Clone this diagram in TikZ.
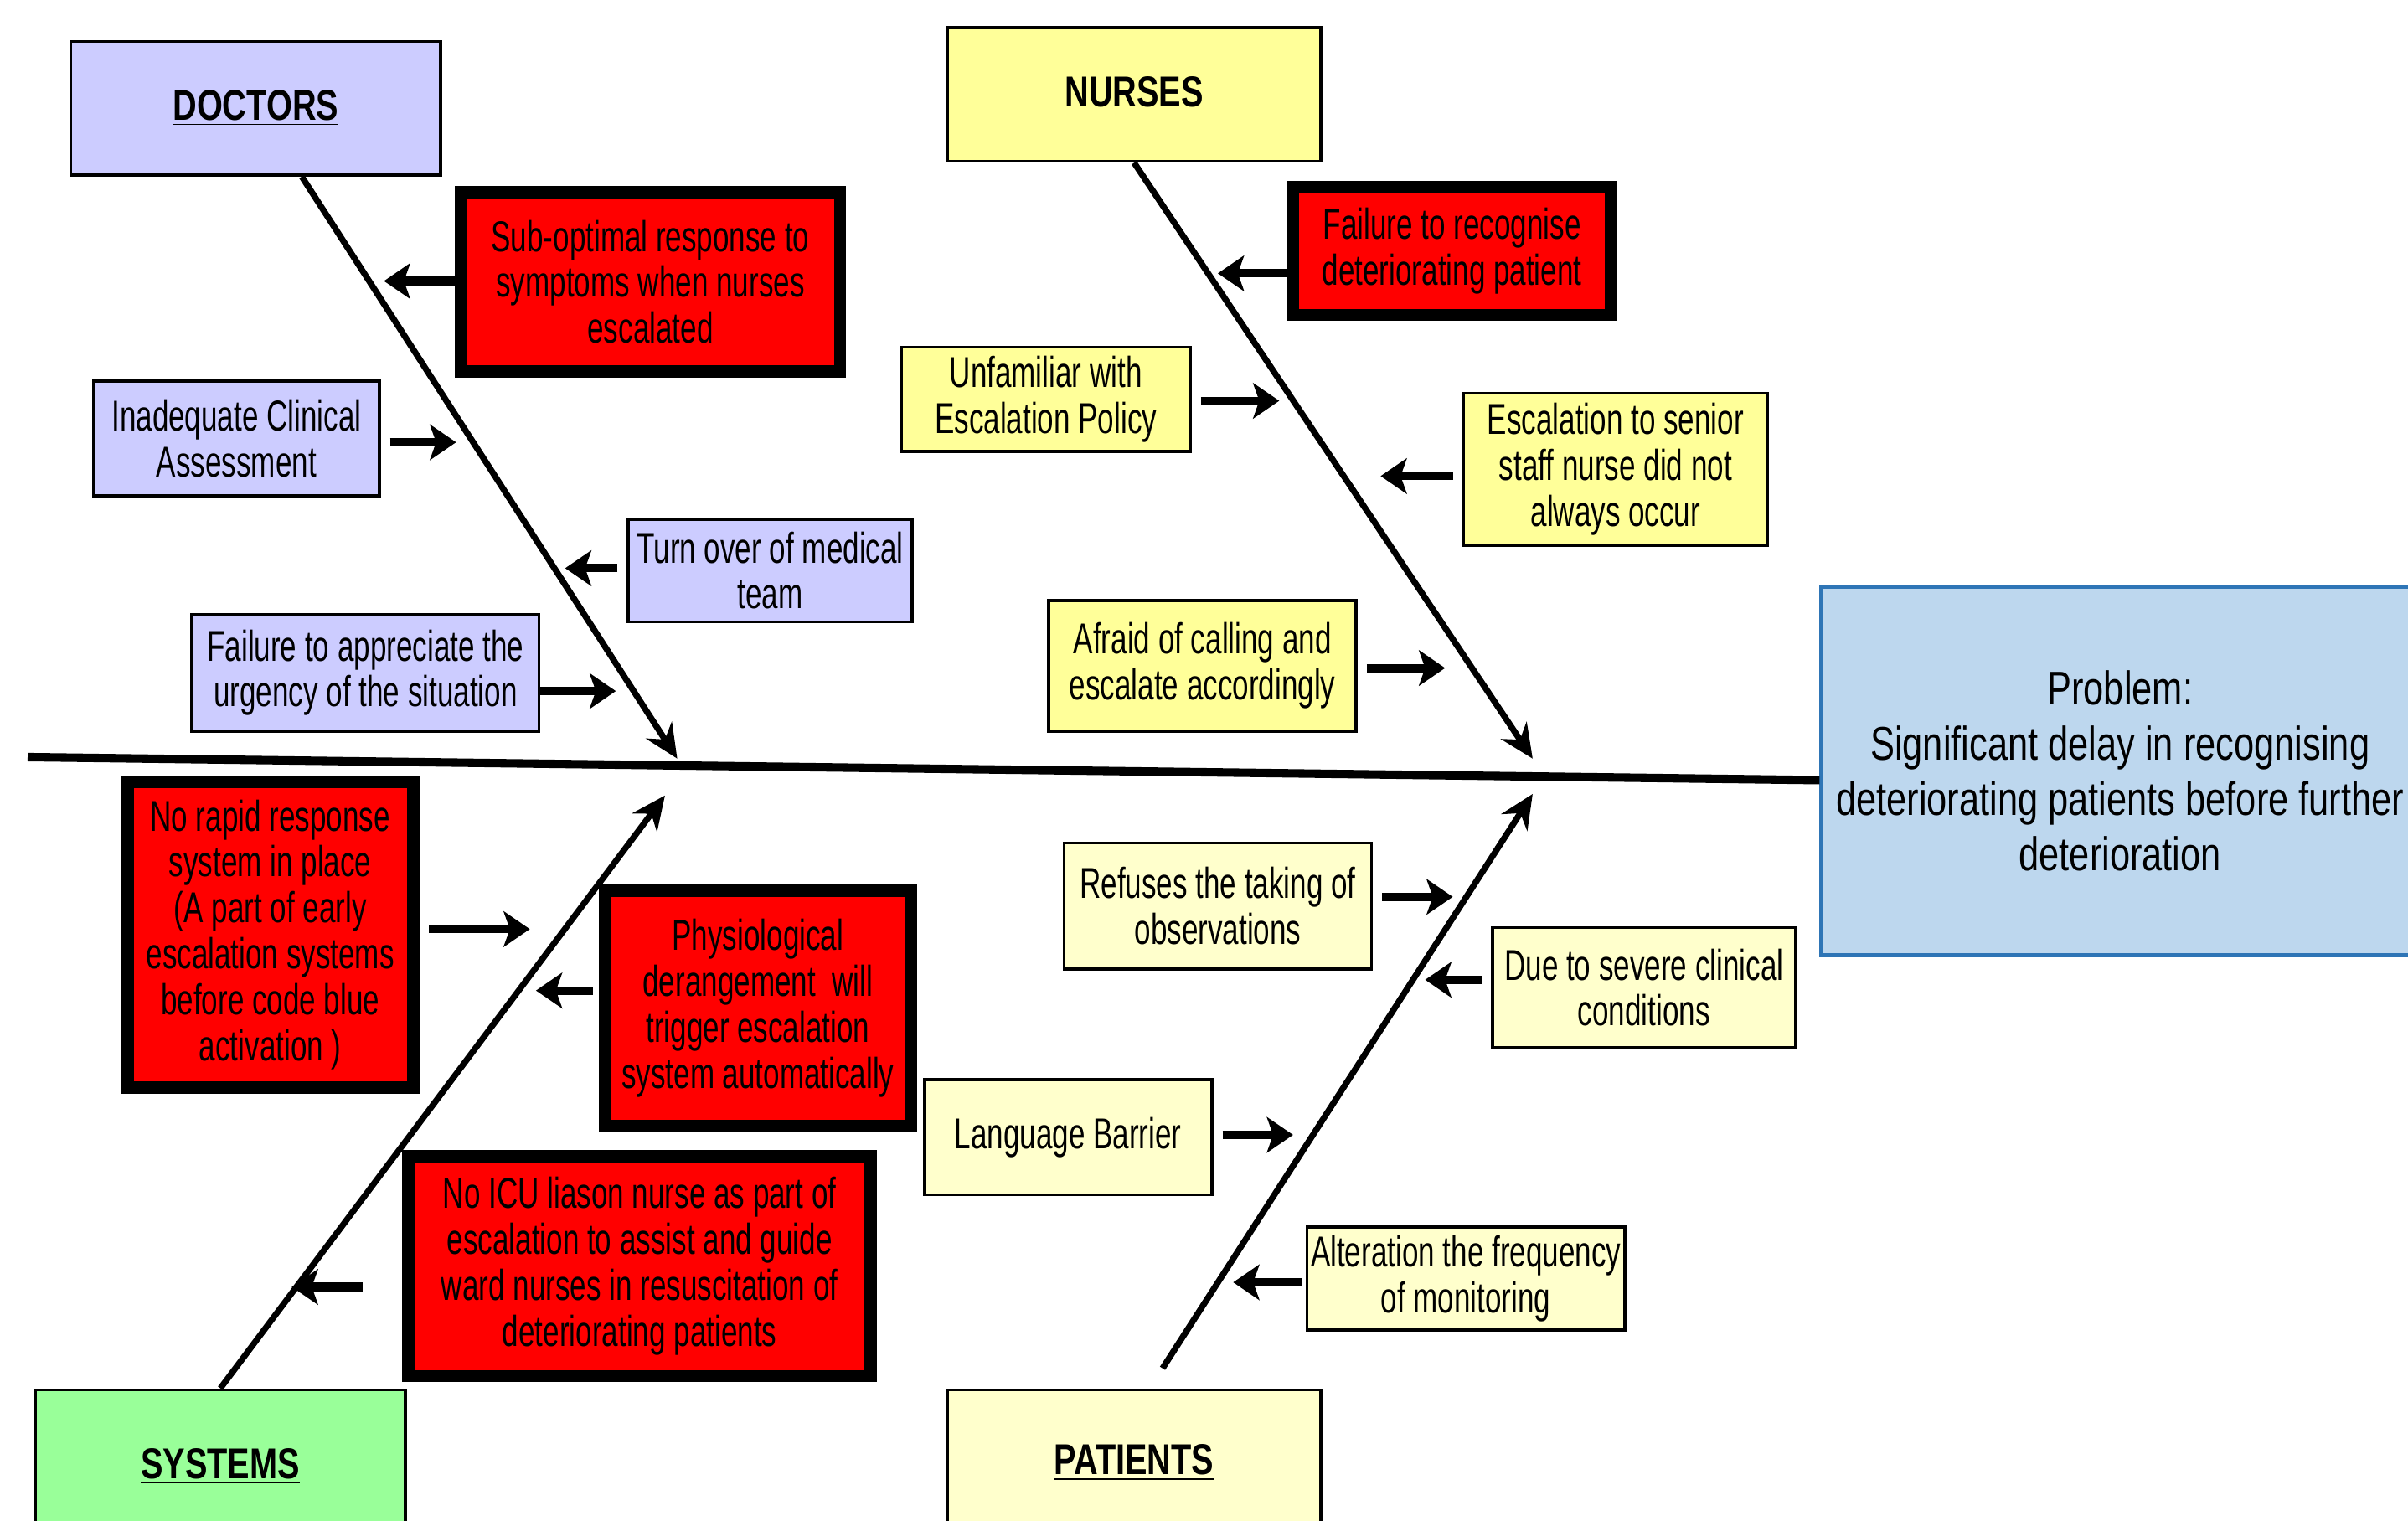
\documentclass[tikz,border=0pt]{standalone}
\usepackage{fontspec}
\setmainfont{Liberation Sans}[FakeStretch=0.68]
\newfontfamily\widefont{Liberation Sans}[FakeStretch=0.77]
\usepackage{tikz}
\usetikzlibrary{arrows.meta}
\definecolor{docblue}{RGB}{204,204,255}
\definecolor{nurseyellow}{RGB}{255,255,153}
\definecolor{patientcream}{RGB}{255,255,204}
\definecolor{systemgreen}{RGB}{153,255,153}
\definecolor{problemblue}{RGB}{189,215,238}
\definecolor{problemedge}{RGB}{46,117,182}

\begin{document}
\begin{tikzpicture}[x=0.2mm,y=-0.2mm,
    causebox/.style={draw=black,line width=0.4mm,align=center,inner sep=0pt,font=\fontsize{16}{17}\selectfont},
    redbox/.style={causebox,fill=red,line width=1.6mm},
    headbox/.style={draw=black,line width=0.4mm,font=\widefont\fontsize{16}{19}\selectfont\bfseries},
    bone/.style={line width=0.8mm,-{Stealth[length=4.4mm,width=4mm]}},
    causearrow/.style={line width=1.1mm,-{Stealth[length=3.4mm,width=4.6mm,inset=0.8mm]}},
    gaparrow/.style={causearrow,shorten <=1.2mm}]
    \useasboundingbox (0,0) rectangle (1568,990);

    % Category heads and the problem
    \node[headbox,fill=docblue,minimum width=48.2mm,minimum height=17.4mm] (doctors) at (166.5,70.5) {\underline{DOCTORS}};
    \node[headbox,fill=nurseyellow,minimum width=48.6mm,minimum height=17.4mm] (nurses) at (738.5,61.5) {\underline{NURSES}};
    \node[headbox,fill=systemgreen,minimum width=48.2mm,minimum height=20mm] (systems) at (143.5,955) {\underline{SYSTEMS}};
    \node[headbox,fill=patientcream,minimum width=48.6mm,minimum height=19mm] (patients) at (738.5,952.5) {\underline{PATIENTS}};
    \node[draw=problemedge,fill=problemblue,line width=0.5mm,minimum width=77.8mm,minimum height=48mm,align=center,font=\widefont\fontsize{17.5}{20.5}\selectfont] (problem) at (1380.5,502)
        {Problem:\\Significant delay in recognising\\deteriorating patients before further\\deterioration};

    % Spine and bones
    \coordinate (spinetail) at (18,493);
    \draw[line width=1.1mm] (spinetail) -- ([yshift=-1.2mm]problem.west);
    \coordinate (doctip) at (441,494);
    \coordinate (nursetip) at (998,494);
    \coordinate (systip) at (433,518);
    \coordinate (pattip) at (998,517);
    \draw[bone] ([xshift=6mm]doctors.south) -- (doctip);
    \draw[bone] (nurses.south) -- (nursetip);
    \draw[bone] (systems.north) -- (systip);
    \draw[bone] ([xshift=3.7mm,yshift=2.6mm]patients.north) -- (pattip);

    % Doctors
    \node[redbox,minimum width=49.4mm,minimum height=23.4mm] (subopt) at (423.5,183.5) {Sub-optimal response to\\symptoms when nurses\\escalated};
    \node[causebox,fill=docblue,minimum width=37.2mm,minimum height=15mm] (inadeq) at (154,285.5) {Inadequate Clinical\\Assessment};
    \node[causebox,fill=docblue,minimum width=37mm,minimum height=13.4mm] (turnover) at (501.5,371.5) {Turn over of medical\\team};
    \node[causebox,fill=docblue,minimum width=45.2mm,minimum height=15.2mm] (urgency) at (238,438) {Failure to appreciate the\\urgency of the situation};
    \coordinate (d1) at (250,183);
    \coordinate (d2) at (297,288);
    \coordinate (d3) at (368,370);
    \coordinate (d4) at (401,450);
    \draw[causearrow] (subopt.west |- d1) -- (d1);
    \draw[gaparrow] (inadeq.east |- d2) -- (d2);
    \draw[gaparrow] (turnover.west |- d3) -- (d3);
    \draw[causearrow] (urgency.east |- d4) -- (d4);

    % Nurses
    \node[redbox,minimum width=41.4mm,minimum height=16.6mm] (recognise) at (945.5,163.5) {Failure to recognise\\deteriorating patient};
    \node[causebox,fill=nurseyellow,minimum width=37.6mm,minimum height=13.6mm] (unfamiliar) at (681,260) {Unfamiliar with\\Escalation Policy};
    \node[causebox,fill=nurseyellow,minimum width=39.6mm,minimum height=19.8mm] (senior) at (1052,305.5) {Escalation to senior\\staff nurse did not\\always occur};
    \node[causebox,fill=nurseyellow,minimum width=40mm,minimum height=17mm] (afraid) at (783,433.5) {Afraid of calling and\\escalate accordingly};
    \coordinate (n1) at (793,178);
    \coordinate (n2) at (833,261);
    \coordinate (n3) at (899,310);
    \coordinate (n4) at (941,435);
    \draw[causearrow] (recognise.west |- n1) -- (n1);
    \draw[gaparrow] (unfamiliar.east |- n2) -- (n2);
    \draw[gaparrow] (senior.west |- n3) -- (n3);
    \draw[gaparrow] (afraid.east |- n4) -- (n4);

    % Systems
    \node[redbox,minimum width=37.2mm,minimum height=39.8mm] (rapid) at (176,608.5) {No rapid response\\system in place\\(A part of early\\escalation systems\\before code blue\\activation )};
    \node[redbox,minimum width=39.8mm,minimum height=30.6mm] (physio) at (493.5,656.5) {Physiological\\derangement\ \ will\\trigger escalation\\system automatically};
    \node[redbox,minimum width=60.2mm,minimum height=28.6mm] (icu) at (416.5,824.5) {No ICU liason nurse as part of\\escalation to assist and guide\\ward nurses in resuscitation of\\deteriorating patients};
    \coordinate (s1) at (345,605);
    \coordinate (s2) at (349,645);
    \coordinate (s3) at (190,838);
    \draw[gaparrow] (rapid.east |- s1) -- (s1);
    \draw[causearrow,shorten <=0.8mm] (physio.west |- s2) -- (s2);
    \draw[causearrow,shorten <=5.2mm] (icu.west |- s3) -- (s3);

    % Patients
    \node[causebox,fill=patientcream,minimum width=40mm,minimum height=16.4mm] (refuses) at (793,590) {Refuses the taking of\\observations};
    \node[causebox,fill=patientcream,minimum width=39.4mm,minimum height=15.6mm] (severe) at (1070.5,643) {Due to severe clinical\\conditions};
    \node[causebox,fill=patientcream,minimum width=37.4mm,minimum height=15mm] (language) at (695.5,740.5) {Language Barrier};
    \node[causebox,fill=patientcream,minimum width=41.4mm,minimum height=13.4mm] (alteration) at (954.5,832.5) {Alteration the frequency\\of monitoring};
    \coordinate (p1) at (946,584);
    \coordinate (p2) at (928,638);
    \coordinate (p3) at (842,739);
    \coordinate (p4) at (803,835);
    \draw[gaparrow] (refuses.east |- p1) -- (p1);
    \draw[gaparrow] (severe.west |- p2) -- (p2);
    \draw[gaparrow] (language.east |- p3) -- (p3);
    \draw[causearrow,shorten <=0.4mm] (alteration.west |- p4) -- (p4);
\end{tikzpicture}
\end{document}
